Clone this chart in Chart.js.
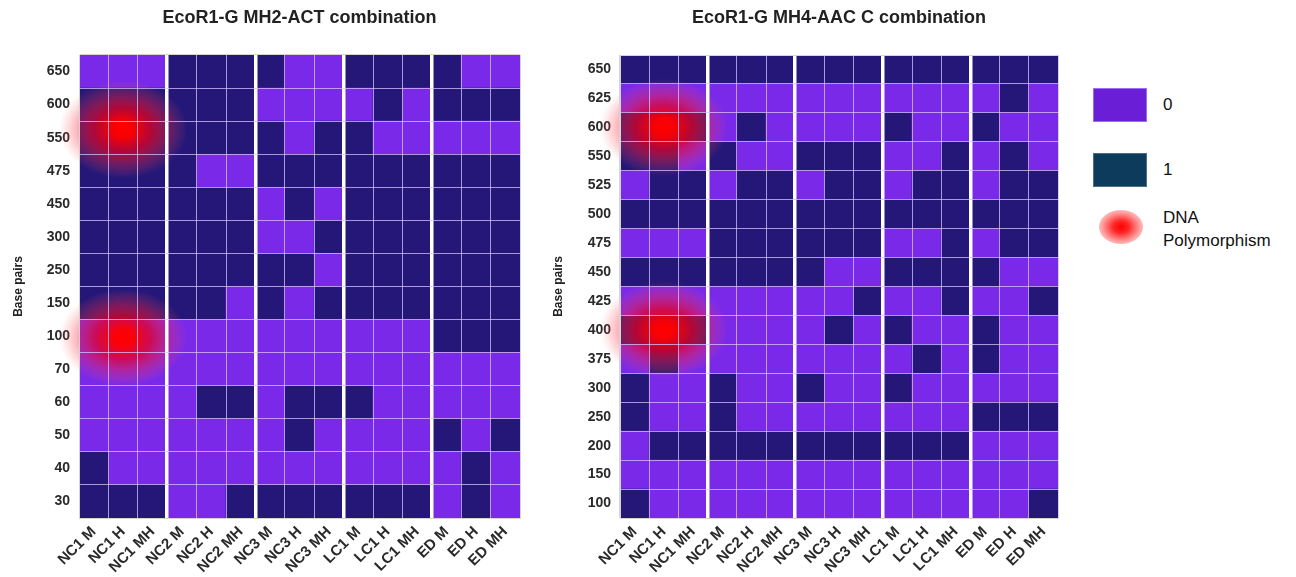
<!DOCTYPE html>
<html>
<head>
<meta charset="utf-8">
<script src="https://cdn.jsdelivr.net/npm/chart.js@4.4.1/dist/chart.umd.min.js"></script>
<style>
    body { margin: 0; background: #fff; width: 1296px; height: 577px; position: relative; overflow: hidden; font-family: "Liberation Sans", Arial, sans-serif; }
    canvas { position: absolute; top: 0; }
    #left { left: 0; }
    #right { left: 540px; }
    .swatch { position: absolute; left: 1093px; width: 54px; height: 34px; box-sizing: border-box; }
    .lbl { position: absolute; left: 1163px; font-size: 17px; color: #111; line-height: 23px; }
    #blob { position: absolute; left: 1099px; top: 210px; width: 44px; height: 34px; border-radius: 50%;
        background: radial-gradient(ellipse at center, #ff0000 0%, rgba(255,0,0,0.85) 25%, rgba(255,40,40,0.45) 60%, rgba(255,90,90,0) 100%); }
</style>
</head>
<body>
<canvas id="left" width="540" height="577"></canvas>
<canvas id="right" width="540" height="577"></canvas>

<div class="swatch" style="top:88px;background:#6a1fd6;border:1px solid #9b6ff2;"></div>
<div class="lbl" style="top:93px;">0</div>
<div class="swatch" style="top:153px;background:#0d3b5c;border:1px solid #4d6f88;"></div>
<div class="lbl" style="top:158px;">1</div>
<div id="blob"></div>
<div class="lbl" style="top:206px;">DNA<br>Polymorphism</div>

<script>
const samples = ['NC1 M', 'NC1 H', 'NC1 MH', 'NC2 M', 'NC2 H', 'NC2 MH', 'NC3 M', 'NC3 H', 'NC3 MH',
    'LC1 M', 'LC1 H', 'LC1 MH', 'ED M', 'ED H', 'ED MH'];

// MH2-ACT: bands top to bottom, 1 = band present
const actBands = ['650', '600', '550', '475', '450', '300', '250', '150', '100', '70', '60', '50', '40', '30'];
const actValues = [
    [0,0,0, 1,1,1, 1,0,0, 1,1,1, 1,0,0],
    [1,1,1, 1,1,1, 0,0,0, 0,1,0, 1,1,1],
    [1,1,1, 1,1,1, 1,0,1, 1,0,0, 0,0,0],
    [1,1,1, 1,0,0, 1,1,1, 1,1,1, 1,1,1],
    [1,1,1, 1,1,1, 0,1,0, 1,1,1, 1,1,1],
    [1,1,1, 1,1,1, 0,0,1, 1,1,1, 1,1,1],
    [1,1,1, 1,1,1, 1,1,0, 1,1,1, 1,1,1],
    [1,1,1, 1,1,0, 1,0,1, 1,1,1, 1,1,1],
    [0,0,0, 0,0,0, 0,0,0, 0,0,0, 1,1,1],
    [0,0,0, 0,0,0, 0,0,0, 0,0,0, 0,0,0],
    [0,0,0, 0,1,1, 0,1,1, 1,0,0, 0,0,0],
    [0,0,0, 0,0,0, 0,1,0, 0,0,0, 1,0,1],
    [1,0,0, 0,0,0, 0,0,0, 0,0,0, 0,1,0],
    [1,1,1, 0,0,1, 1,1,1, 1,1,1, 0,1,0]
];
// polymorphism spots, y in band rows counted from the bottom
const actPolymorphism = [
    { x: 'NC1 H', y: 11.75, r: 64 },
    { x: 'NC1 H', y: 5.45, r: 64 }
];

// MH4-AAC C
const aacBands = ['650', '625', '600', '550', '525', '500', '475', '450', '425', '400', '375', '300', '250', '200', '150', '100'];
const aacValues = [
    [1,1,1, 1,1,1, 1,1,1, 1,1,1, 1,1,1],
    [0,0,0, 0,0,0, 0,0,0, 0,0,0, 0,1,0],
    [1,1,1, 0,1,0, 0,0,0, 1,0,0, 1,0,0],
    [1,1,0, 1,0,0, 1,1,1, 0,0,1, 0,1,0],
    [0,1,1, 0,1,1, 0,1,1, 0,1,1, 0,1,1],
    [1,1,1, 1,1,1, 1,1,1, 1,1,1, 1,1,1],
    [0,0,0, 1,1,1, 1,1,1, 0,0,1, 0,1,1],
    [1,1,1, 1,1,1, 1,0,0, 1,1,1, 1,0,0],
    [0,0,0, 0,0,0, 0,0,1, 0,0,1, 0,0,1],
    [1,1,1, 0,0,0, 0,1,0, 1,0,0, 1,0,0],
    [0,1,0, 0,0,0, 0,0,0, 0,1,0, 1,0,0],
    [1,0,0, 1,0,0, 1,0,0, 1,0,0, 0,0,0],
    [1,0,0, 1,0,0, 0,0,0, 0,0,0, 1,1,1],
    [0,1,1, 1,1,1, 1,1,1, 1,1,1, 0,0,0],
    [0,0,0, 0,0,0, 0,0,0, 0,0,0, 0,0,0],
    [1,0,0, 0,0,0, 0,0,0, 0,0,0, 0,0,1]
];
const aacPolymorphism = [
    { x: 'NC1 H', y: 13.5, r: 64 },
    { x: 'NC1 H', y: 6.5, r: 64 }
];

const ABSENT = '#7a29e9';
const PRESENT = '#251778';
const FONT = '"Liberation Sans", Arial, sans-serif';
const THIN = 'rgba(214,196,255,0.75)';
const EDGE = '#d4d4d4';

const centeredTitle = {
    id: 'centeredTitle',
    afterDraw(chart, args, opts) {
        const { ctx, chartArea } = chart;
        ctx.save();
        ctx.font = 'bold 18px ' + FONT;
        ctx.fillStyle = '#222';
        ctx.textAlign = 'center';
        ctx.textBaseline = 'middle';
        ctx.fillText(opts.text, (chartArea.left + chartArea.right) / 2, 18);
        ctx.restore();
    }
};

// soft red ellipse for each polymorphism point
const polymorphismGlow = {
    id: 'polymorphismGlow',
    afterDatasetsDraw(chart) {
        const ctx = chart.ctx;
        chart.data.datasets.forEach((ds, i) => {
            if (ds.type !== 'bubble') return;
            chart.getDatasetMeta(i).data.forEach((pt, j) => {
                const rx = ds.data[j].r;
                ctx.save();
                ctx.translate(pt.x, pt.y);
                ctx.scale(1, 0.76);
                const g = ctx.createRadialGradient(0, 0, 0, 0, 0, rx);
                g.addColorStop(0, 'rgba(255,0,0,1)');
                g.addColorStop(0.18, 'rgba(255,0,0,0.95)');
                g.addColorStop(0.45, 'rgba(235,0,30,0.7)');
                g.addColorStop(0.75, 'rgba(255,40,60,0.3)');
                g.addColorStop(1, 'rgba(255,90,90,0)');
                ctx.fillStyle = g;
                ctx.beginPath();
                ctx.arc(0, 0, rx, 0, Math.PI * 2);
                ctx.fill();
                ctx.restore();
            });
        });
    }
};

function createBandChart(canvas, title, bands, values, spots, axisWidth, padRight) {
    const datasets = [];
    for (let r = bands.length - 1; r >= 0; r--) {
        datasets.push({
            type: 'bar',
            label: bands[r],
            data: samples.map(() => 1),
            backgroundColor: values[r].map(v => v ? PRESENT : ABSENT),
            borderWidth: 0,
            categoryPercentage: 1,
            barPercentage: 1,
            yAxisID: 'y'
        });
    }
    datasets.push({
        type: 'bubble',
        label: 'DNA Polymorphism',
        data: spots,
        backgroundColor: 'rgba(0,0,0,0)',
        borderWidth: 0,
        yAxisID: 'yb'
    });

    return new Chart(canvas, {
        data: { labels: samples, datasets: datasets },
        options: {
            responsive: false,
            animation: false,
            events: [],
            layout: { autoPadding: false, padding: { top: 55, right: padRight, left: 0, bottom: 0 } },
            plugins: {
                legend: { display: false },
                tooltip: { enabled: false },
                centeredTitle: { text: title }
            },
            scales: {
                x: {
                    stacked: true,
                    grid: {
                        z: 1,
                        offset: true,
                        drawTicks: false,
                        color: (c) => (c.index === 0 || c.index === undefined) ? EDGE
                            : (c.index % 3 === 0 ? '#ffffff' : THIN),
                        lineWidth: (c) => (c.index !== undefined && c.index > 0 && c.index % 3 === 0) ? 3.5 : 1
                    },
                    border: { z: 1, color: EDGE },
                    ticks: {
                        color: '#2a2a2a',
                        font: { family: FONT, size: 15, weight: 'bold' },
                        minRotation: 45,
                        maxRotation: 45,
                        autoSkip: false,
                        padding: 5
                    },
                    afterFit: (s) => { s.height = 59; s.paddingLeft = 0; s.paddingRight = 0; }
                },
                y: { stacked: true, display: false, min: 0, max: bands.length },
                yb: { type: 'linear', display: false, min: 0, max: bands.length },
                y2: {
                    type: 'category',
                    position: 'left',
                    labels: bands,
                    offset: true,
                    grid: {
                        z: 1,
                        offset: true,
                        drawTicks: false,
                        color: (c) => (c.index === 0 || c.index === undefined) ? EDGE : THIN,
                        lineWidth: 1
                    },
                    border: { z: 1, color: EDGE },
                    ticks: {
                        color: '#2a2a2a',
                        font: { family: FONT, size: 14, weight: 'bold' },
                        autoSkip: false,
                        padding: 9
                    },
                    title: {
                        display: true,
                        text: 'Base pairs',
                        color: '#222',
                        font: { family: FONT, size: 12, weight: 'bold' },
                        padding: { top: 11, bottom: 0 }
                    },
                    afterFit: (s) => { s.width = axisWidth; s.paddingTop = 0; s.paddingBottom = 0; }
                }
            }
        },
        plugins: [centeredTitle, polymorphismGlow]
    });
}

createBandChart(document.getElementById('left'), 'EcoR1-G MH2-ACT combination', actBands, actValues, actPolymorphism, 79, 20);
createBandChart(document.getElementById('right'), 'EcoR1-G MH4-AAC C combination', aacBands, aacValues, aacPolymorphism, 80, 22);
</script>
</body>
</html>
